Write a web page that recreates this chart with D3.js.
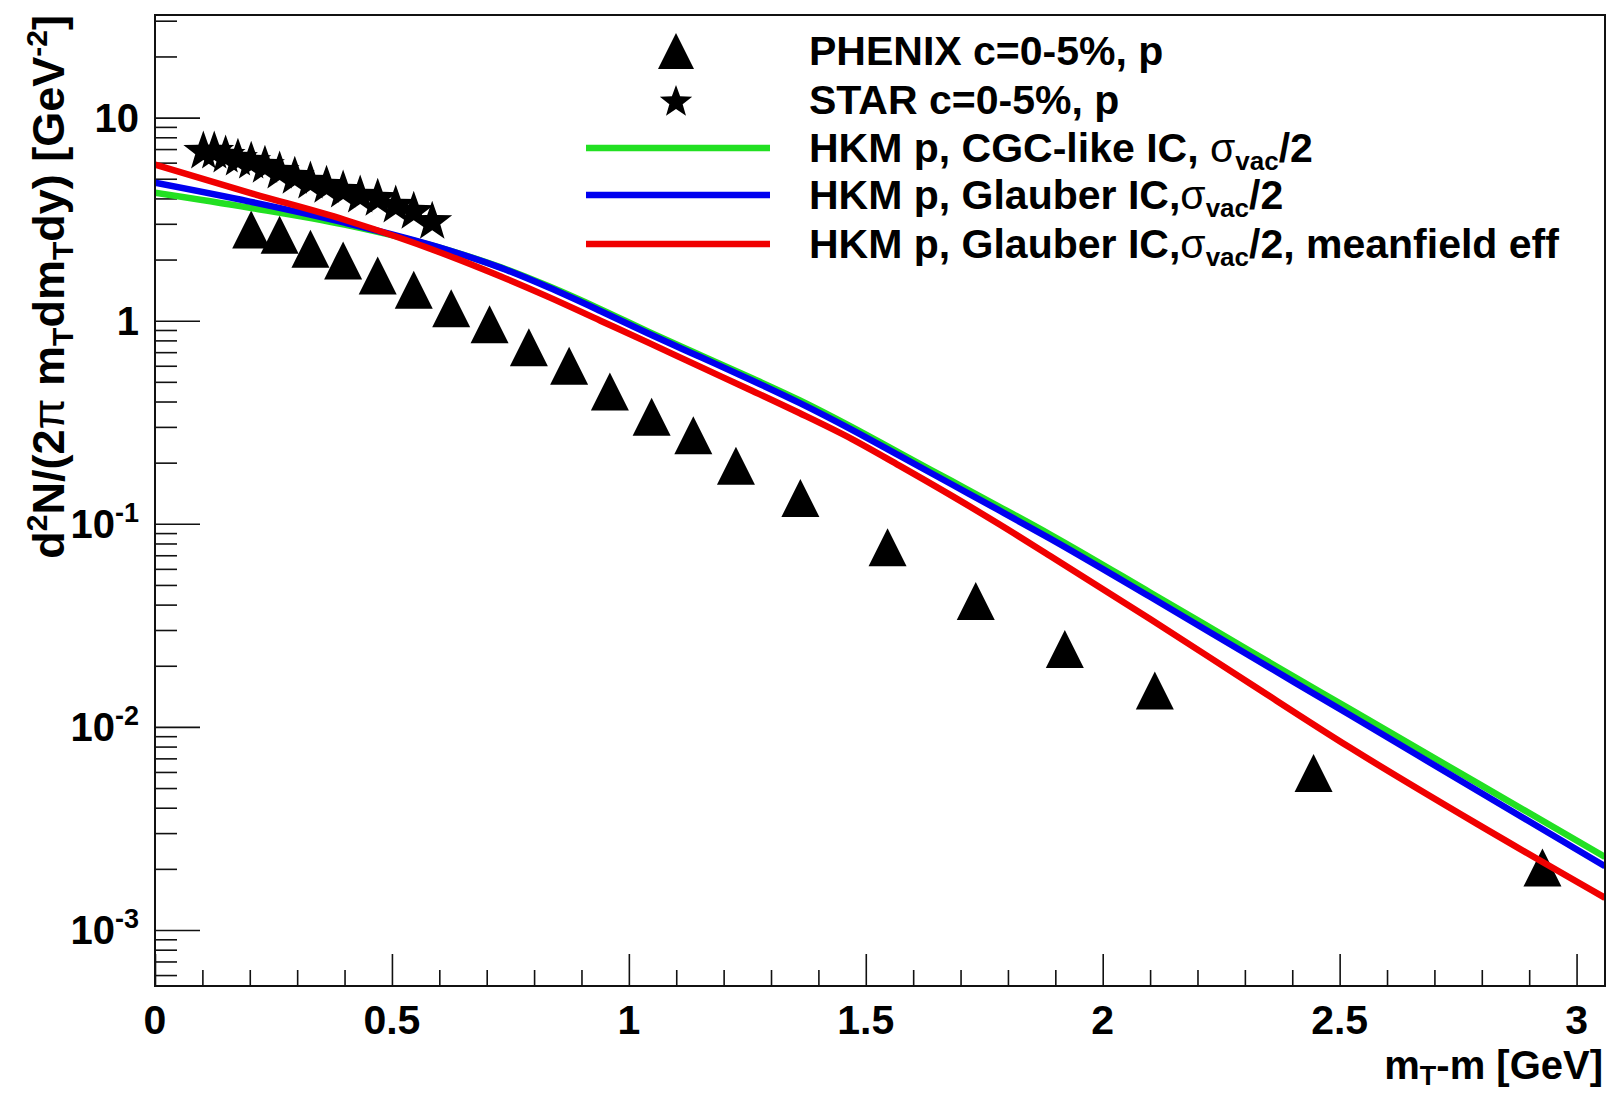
<!DOCTYPE html>
<html>
<head>
<meta charset="utf-8">
<script src="https://cdn.jsdelivr.net/npm/d3@7"></script>
<style>
  body { margin: 0; background: #fff; }
  text { font-family: "Liberation Sans", Arial, Helvetica, sans-serif; font-weight: bold; fill: #000; }
</style>
</head>
<body>
<svg id="chart"></svg>
<script>
// PHENIX c=0-5% protons (mT-m in GeV, yield)
var phenixX = [0.203, 0.263, 0.328, 0.397, 0.470, 0.546, 0.625, 0.706, 0.789, 0.874, 0.960,
               1.048, 1.136, 1.226, 1.362, 1.546, 1.732, 1.920, 2.110, 2.445, 2.928]
var phenixY = [2.81, 2.65, 2.26, 1.98, 1.67, 1.42, 1.15, 0.96, 0.74, 0.60, 0.448,
               0.337, 0.273, 0.193, 0.134, 0.0766, 0.0417, 0.0242, 0.0151, 0.00593, 0.00203]

// STAR c=0-5% protons
var starX = [0.102, 0.125, 0.149, 0.175, 0.203, 0.232, 0.263, 0.295,
             0.328, 0.362, 0.397, 0.433, 0.470, 0.508, 0.546, 0.585]
var starY = [6.80, 6.80, 6.50, 6.28, 6.07, 5.80, 5.42, 5.12,
             4.84, 4.62, 4.37, 4.13, 3.99, 3.69, 3.44, 3.07]

// HKM model curves
var modelX = [0, 0.2, 0.4, 0.62, 0.73, 0.83, 0.94, 1.04, 1.15, 1.26, 1.36,
              1.47, 1.57, 1.68, 1.78, 1.89, 2.10, 2.31, 2.52, 2.79, 3.06]
var hkmCgc = [4.27, 3.60, 2.97, 2.22, 1.83, 1.48, 1.14, 0.885, 0.679, 0.521, 0.406,
              0.300, 0.224, 0.163, 0.122, 0.0883, 0.0459, 0.0237, 0.0123, 0.00530, 0.00229]
var hkmGlauber = [4.78, 3.86, 3.04, 2.22, 1.82, 1.46, 1.117, 0.867, 0.664, 0.508, 0.394,
                  0.291, 0.217, 0.157, 0.117, 0.0843, 0.0437, 0.0224, 0.0115, 0.00486, 0.00206]
var hkmGlauberMf = [5.87, 4.26, 3.14, 2.09, 1.65, 1.31, 1.00, 0.782, 0.594, 0.452, 0.351,
                    0.262, 0.194, 0.138, 0.100, 0.0692, 0.0340, 0.0164, 0.00796, 0.00333, 0.00144]

var xTickLabels = ["0", "0.5", "1", "1.5", "2", "2.5", "3"]
var yDecades = [-3, -2, -1, 0, 1]

const W = 1606, H = 1093
var margin = { top: 15, right: 1, bottom: 107, left: 155 }

var svg = d3.select("#chart")
    .attr("width", W)
    .attr("height", H)

var x = d3.scaleLinear().domain([0, 3.06]).range([margin.left, W - margin.right])
var y = d3.scaleLog().domain([5.3e-4, 32]).range([H - margin.bottom, margin.top])

svg.append("defs").append("clipPath").attr("id", "plotclip")
    .append("rect")
    .attr("x", x.range()[0]).attr("y", y.range()[1])
    .attr("width", x.range()[1] - x.range()[0])
    .attr("height", y.range()[0] - y.range()[1])

// --- ticks (inward, left and bottom only)
var yMinor = y.ticks().filter(d => Math.abs(Math.log10(d) - Math.round(Math.log10(d))) > 1e-6)
var yMajor = yDecades.map(e => Math.pow(10, e))

svg.append("g")
    .attr("transform", "translate(" + x(0) + ",0)")
    .call(d3.axisLeft(y).tickValues(yMinor).tickSize(-22).tickFormat(""))
    .call(g => g.select(".domain").remove())
svg.append("g")
    .attr("transform", "translate(" + x(0) + ",0)")
    .call(d3.axisLeft(y).tickValues(yMajor).tickSize(-45).tickFormat(""))
    .call(g => g.select(".domain").remove())

var xMinor = d3.range(0, 31).map(i => i / 10).filter(d => (Math.round(d * 10) % 5) !== 0)
var xMajor = xTickLabels.map(Number)
svg.append("g")
    .attr("transform", "translate(0," + y.range()[0] + ")")
    .call(d3.axisBottom(x).tickValues(xMinor).tickSize(-16).tickFormat(""))
    .call(g => g.select(".domain").remove())
svg.append("g")
    .attr("transform", "translate(0," + y.range()[0] + ")")
    .call(d3.axisBottom(x).tickValues(xMajor).tickSize(-32).tickFormat(""))
    .call(g => g.select(".domain").remove())

svg.selectAll(".tick line").attr("stroke", "#111").attr("stroke-width", 1.6)

// --- tick labels
svg.append("g").selectAll("text")
    .data(xTickLabels)
    .enter().append("text")
    .attr("x", d => x(+d))
    .attr("y", y.range()[0] + 48)
    .attr("text-anchor", "middle")
    .style("font-size", "41px")
    .text(d => d)

var yLab = svg.append("g").selectAll("text")
    .data(yDecades)
    .enter().append("text")
    .attr("x", x(0) - 16)
    .attr("y", d => y(Math.pow(10, d)) + 14)
    .attr("text-anchor", "end")
    .style("font-size", "40px")
yLab.each(function(d) {
    var t = d3.select(this)
    if (d === 0) t.text("1")
    else if (d === 1) t.text("10")
    else {
        t.append("tspan").text("10")
        t.append("tspan").attr("dy", -16).style("font-size", "27px").text(d)
    }
})

// --- markers
function triPath(cx, cy, s) {
    return "M" + (cx - s) + "," + (cy + s) + "L" + (cx + s) + "," + (cy + s) + "L" + cx + "," + (cy - s) + "Z"
}
function starPath(cx, cy, R, r) {
    var p = []
    for (var i = 0; i < 10; i++) {
        var a = -Math.PI / 2 + i * Math.PI / 5
        var rad = i % 2 === 0 ? R : r
        p.push((cx + rad * Math.cos(a)) + "," + (cy + rad * Math.sin(a)))
    }
    return "M" + p.join("L") + "Z"
}

var plot = svg.append("g").attr("clip-path", "url(#plotclip)")

plot.append("g").selectAll("path")
    .data(starX)
    .enter().append("path")
    .attr("d", (d, i) => starPath(x(d), y(starY[i]), 21, 8.5))
    .attr("fill", "#000")

plot.append("g").selectAll("path")
    .data(phenixX)
    .enter().append("path")
    .attr("d", (d, i) => triPath(x(d), y(phenixY[i]), 19))
    .attr("fill", "#000")

// --- model lines
var line = d3.line()
    .x((d, i) => x(modelX[i]))
    .y(d => y(d))
    .curve(d3.curveMonotoneX)

var series = [
    { vals: hkmCgc, color: "#22e022" },
    { vals: hkmGlauber, color: "#0000f0" },
    { vals: hkmGlauberMf, color: "#f00000" }
]
series.forEach(function(s) {
    plot.append("path")
        .attr("d", line(s.vals))
        .attr("fill", "none")
        .attr("stroke", s.color)
        .attr("stroke-width", 6.5)
})

// --- frame
svg.append("rect")
    .attr("x", x.range()[0]).attr("y", y.range()[1])
    .attr("width", x.range()[1] - x.range()[0])
    .attr("height", y.range()[0] - y.range()[1])
    .attr("fill", "none")
    .attr("stroke", "#111")
    .attr("stroke-width", 2)

// --- axis titles
var xt = svg.append("text")
    .attr("x", W - 3)
    .attr("y", H - 14)
    .attr("text-anchor", "end")
    .style("font-size", "40px")
xt.append("tspan").text("m")
xt.append("tspan").attr("dy", 6).style("font-size", "27px").text("T")
xt.append("tspan").attr("dy", -6).text("-m [GeV]")

var yt = svg.append("text")
    .attr("transform", "translate(64," + margin.top + ") rotate(-90)")
    .attr("text-anchor", "end")
    .style("font-size", "45px")
yt.append("tspan").text("d")
yt.append("tspan").attr("dy", -17).style("font-size", "30px").text("2")
yt.append("tspan").attr("dy", 17).text("N/(2")
yt.append("tspan").style("font-weight", "normal").text("\u03c0")
yt.append("tspan").text(" m")
yt.append("tspan").attr("dy", 9).style("font-size", "30px").text("T")
yt.append("tspan").attr("dy", -9).text("dm")
yt.append("tspan").attr("dy", 9).style("font-size", "30px").text("T")
yt.append("tspan").attr("dy", -9).text("dy) [GeV")
yt.append("tspan").attr("dy", -17).style("font-size", "30px").text("-2")
yt.append("tspan").attr("dy", 17).text("]")

// --- legend
var legRows = [51, 100, 148, 195, 244]
var legText = [
    ["PHENIX c=0-5%, p"],
    ["STAR c=0-5%, p"],
    ["HKM p, CGC-like IC, ", "\u03c3", "vac", "/2"],
    ["HKM p, Glauber IC,", "\u03c3", "vac", "/2"],
    ["HKM p, Glauber IC,", "\u03c3", "vac", "/2, meanfield eff"]
]
var legend = svg.append("g")
legend.append("path").attr("d", triPath(676, legRows[0], 18)).attr("fill", "#000")
legend.append("path").attr("d", starPath(676, legRows[1] + 2, 17, 7)).attr("fill", "#000")
series.forEach(function(s, i) {
    legend.append("line")
        .attr("x1", 586).attr("x2", 770)
        .attr("y1", legRows[i + 2]).attr("y2", legRows[i + 2])
        .attr("stroke", s.color)
        .attr("stroke-width", 6.5)
})
legText.forEach(function(parts, i) {
    var t = legend.append("text")
        .attr("x", 809)
        .attr("y", legRows[i] + 14)
        .style("font-size", "41px")
    t.append("tspan").text(parts[0])
    if (parts.length > 1) {
        t.append("tspan").style("font-weight", "normal").text(parts[1])
        t.append("tspan").attr("dy", 8).style("font-size", "26px").text(parts[2])
        t.append("tspan").attr("dy", -8).text(parts[3])
    }
})
</script>
</body>
</html>
